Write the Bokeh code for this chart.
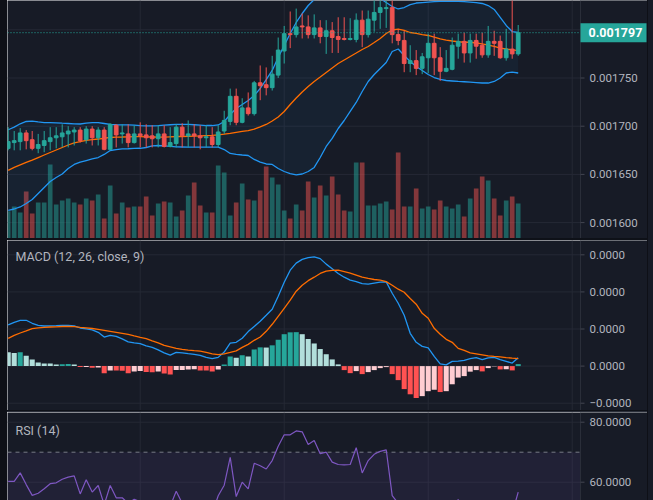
import numpy as np
from bokeh.plotting import figure
from bokeh.models import Range1d, Label, Spacer, InlineStyleSheet
from bokeh.core.properties import value
from bokeh.layouts import column, row
from bokeh.embed import file_html
from bokeh.resources import INLINE

# ---------------- data (prices in units of 1e-6) ----------------
opens = [1677,1683,1684,1693,1686,1677,1680,1684,1688,1689,1692,1694,1696,1686,1697,1688,1696,1676,1701,1692,
         1692,1683,1692,1691,1690,1687,1692,1679,1682,1699,1690,1692,1690,1688,1689,1681,1695,1705,1731,1704,
         1719,1713,1745,1743,1740,1753,1778,1796,1795,1804,1803,1795,1802,1793,1799,1793,1791,1790,1790,1810,
         1795,1810,1818,1822,1823,1795,1789,1765,1768,1760,1771,1786,1771,1757,1759,1783,1788,1776,1789,1784,
         1774,1788,1788,1771,1780,1775]
highs = [1699,1695,1698,1696,1695,1692,1695,1699,1699,1702,1700,1699,1699,1700,1700,1699,1699,1703,1702,1702,
         1702,1701,1704,1702,1701,1701,1701,1699,1702,1703,1706,1702,1701,1701,1699,1701,1716,1739,1739,1729,
         1735,1747,1763,1761,1773,1792,1804,1819,1822,1817,1815,1816,1810,1810,1808,1813,1813,1812,1817,1820,
         1820,1835,1835,1835,1835,1801,1799,1784,1779,1776,1796,1796,1782,1779,1792,1796,1797,1796,1796,1797,
         1804,1799,1794,1801,1840,1805]
lows = [1675,1675,1675,1676,1675,1672,1673,1675,1677,1678,1678,1680,1683,1682,1680,1680,1675,1675,1678,1682,
        1678,1682,1678,1678,1678,1678,1678,1678,1678,1678,1678,1678,1676,1678,1678,1678,1692,1701,1701,1703,
        1711,1711,1727,1732,1737,1750,1765,1781,1792,1791,1791,1791,1786,1775,1776,1776,1789,1789,1787,1782,
        1792,1798,1801,1802,1786,1784,1756,1756,1753,1754,1755,1753,1747,1756,1758,1770,1766,1766,1770,1771,
        1771,1773,1770,1768,1770,1773]
closes = [1684,1685,1693,1685,1677,1681,1685,1688,1690,1693,1695,1696,1685,1697,1688,1696,1676,1702,1691,1693,
          1683,1692,1690,1688,1687,1692,1679,1683,1699,1690,1692,1690,1688,1689,1681,1694,1706,1731,1704,1719,
          1713,1745,1742,1740,1754,1779,1796,1795,1803,1803,1795,1802,1793,1799,1792,1790,1790,1791,1810,1795,
          1811,1818,1823,1823,1795,1789,1765,1768,1760,1772,1786,1771,1757,1760,1784,1788,1776,1789,1783,1774,
          1788,1786,1771,1780,1775,1797]
volumes = [27.3,32,26,47,25,36,36,74,34,38,40,36,34,40,38,44,20,53,25,36,
           31,32,32,42,23,35,37,36,22,28,43,56,33,26,26,73,66,23,36,55,
           39,38,48,72,61,54,28,20,34,28,57,41,53,43,62,44,28,27,76,76,
           33,33,35,37,29,86,32,32,50,30,32,29,38,32,30,34,22,40,50,62,
           58,40,23,38,42,35]
bb_upper = [1696.3,1699.0,1702.5,1704.9,1705.2,1704.4,1703.8,1703.8,1703.5,1703.1,
            1702.8,1702.5,1702.3,1703.1,1703.8,1703.8,1702.8,1701.8,1701.5,1701.3,
            1701.3,1701.1,1700.7,1700.4,1700.4,1700.7,1701.1,1701.5,1701.8,1701.8,
            1701.8,1701.5,1701.1,1700.7,1700.7,1701.3,1704.9,1712.1,1718.4,1722.5,
            1726.7,1731.9,1739.1,1748.4,1757.8,1771.3,1783.7,1796.2,1807.6,1816.9,
            1825.2,1831.4,1836.6,1840.8,1843.9,1846.0,1847.0,1847.0,1846.0,1843.9,
            1840.8,1836.6,1832.5,1828.3,1824.2,1821.6,1823.1,1826.2,1827.8,1828.3,
            1828.8,1829.2,1829.4,1829.4,1829.4,1829.4,1829.2,1828.8,1828.3,1827.3,
            1825.2,1821.1,1812.8,1804.5,1798.2,1797.2]
bb_basis = [1654.1,1657.2,1659.8,1662.4,1664.9,1667.5,1670.1,1672.7,1675.3,1677.9,
            1680.5,1682.6,1684.1,1685.2,1686.0,1686.7,1687.5,1688.3,1688.7,1688.8,
            1689.0,1689.1,1689.1,1689.0,1688.8,1688.6,1688.7,1689.0,1689.3,1689.3,
            1689.5,1689.7,1689.9,1690.2,1690.4,1690.9,1691.7,1692.6,1693.7,1694.7,
            1695.5,1696.9,1699.2,1701.8,1705.4,1709.6,1715.3,1722.5,1729.3,1735.5,
            1741.2,1746.4,1751.0,1755.7,1760.4,1765.0,1768.7,1772.3,1775.9,1779.6,
            1782.7,1786.8,1791.0,1796.2,1799.8,1800.8,1799.3,1797.2,1796.2,1795.1,
            1794.1,1792.5,1790.5,1789.4,1788.4,1787.6,1787.1,1787.1,1786.3,1785.3,
            1784.2,1782.7,1781.1,1780.1,1779.1,1778.5]
bb_lower = [1612.6,1614.1,1616.2,1619.8,1624.0,1630.2,1636.4,1642.6,1646.8,1650.4,
            1656.1,1660.3,1662.7,1664.4,1666.0,1667.5,1670.7,1674.8,1675.8,1676.4,
            1676.6,1676.9,1677.1,1677.9,1679.5,1680.0,1679.5,1679.0,1678.6,1678.4,
            1678.2,1678.2,1678.2,1678.2,1678.2,1678.2,1675.8,1671.7,1670.7,1670.1,
            1669.6,1665.5,1662.7,1660.8,1660.3,1656.1,1653.0,1650.9,1649.4,1650.4,
            1653.0,1657.2,1667.5,1679.0,1687.3,1697.6,1705.9,1715.3,1724.6,1736.0,
            1746.4,1753.6,1759.9,1766.1,1777.5,1780.1,1773.3,1767.1,1761.9,1757.8,
            1753.6,1750.5,1748.5,1747.4,1746.9,1746.4,1746.1,1745.7,1745.3,1744.8,
            1744.8,1746.4,1750.0,1755.2,1756.2,1755.2]
# MACD values in units of 1e-5
macd_line = [1.114,1.181,1.235,1.235,1.154,1.100,1.081,1.086,1.092,1.100,
             1.100,1.086,1.027,1.005,0.978,0.911,0.784,0.830,0.803,0.735,
             0.654,0.627,0.605,0.546,0.505,0.438,0.357,0.297,0.370,0.357,
             0.335,0.316,0.289,0.235,0.200,0.235,0.378,0.622,0.641,0.750,
             0.930,1.070,1.210,1.370,1.532,1.884,2.262,2.586,2.776,2.876,
             2.924,2.946,2.897,2.749,2.627,2.497,2.397,2.316,2.276,2.222,
             2.208,2.235,2.262,2.270,1.965,1.695,1.370,0.884,0.641,0.532,
             0.492,0.262,0.059,0.032,0.127,0.135,0.154,0.200,0.227,0.173,
             0.222,0.235,0.173,0.127,0.081,0.227]
signal_line = [0.749,0.830,0.892,0.951,1.011,1.032,1.046,1.054,1.059,1.068,
               1.073,1.065,1.046,1.032,1.014,0.992,0.965,0.938,0.911,0.884,
               0.857,0.816,0.776,0.741,0.681,0.627,0.559,0.519,0.478,0.451,
               0.432,0.416,0.405,0.370,0.330,0.308,0.330,0.370,0.411,0.505,
               0.586,0.695,0.784,0.938,1.127,1.343,1.559,1.776,2.019,2.181,
               2.303,2.397,2.497,2.559,2.581,2.586,2.546,2.505,2.451,2.397,
               2.362,2.335,2.316,2.276,2.181,2.073,1.992,1.822,1.668,1.424,
               1.289,1.019,0.857,0.722,0.641,0.478,0.424,0.357,0.330,0.303,
               0.276,0.262,0.249,0.230,0.214,0.200]
macd_hist = [0.37,0.35,0.37,0.28,0.18,0.10,0.073,0.068,0.045,0.05,
             0.055,0.045,-0.027,-0.025,-0.043,-0.04,-0.19,-0.116,-0.12,-0.125,
             -0.19,-0.143,-0.135,-0.162,-0.165,-0.143,-0.197,-0.224,-0.108,-0.105,
             -0.09,-0.088,-0.116,-0.12,-0.143,-0.09,0.046,0.26,0.227,0.29,
             0.26,0.45,0.505,0.50,0.56,0.71,0.86,0.91,0.915,0.86,
             0.73,0.61,0.46,0.32,0.18,0.046,-0.108,-0.19,-0.135,-0.216,
             -0.162,-0.108,-0.054,-0.027,-0.216,-0.378,-0.62,-0.76,-0.86,-0.81,
             -0.676,-0.638,-0.70,-0.676,-0.49,-0.31,-0.27,-0.15,-0.108,-0.143,
             -0.054,-0.01,-0.09,-0.085,-0.116,0.054]
rsi = [60.3,60.3,63.1,59.2,55.6,56.3,57.8,59.5,59.8,61.0,
       61.7,62.1,56.1,60.8,56.7,58.9,52.5,58.9,54.8,54.8,
       53.0,54.3,53.5,53.0,52.0,53.5,50.5,52.0,57.0,53.0,
       53.5,53.0,51.5,52.0,49.5,55.5,59.0,68.3,55.2,60.0,
       57.8,66.3,65.5,64.4,67.2,72.0,75.8,75.8,77.1,76.8,
       72.6,73.9,69.5,70.0,66.7,65.9,65.8,65.9,71.5,63.1,
       67.2,69.3,70.3,70.8,55.5,53.0,44.5,46.0,43.5,47.0,
       52.0,47.5,43.5,44.5,51.5,54.2,49.5,53.5,51.5,48.5,
       53.5,52.5,47.5,50.5,49.5,56.7]
price_grid = [0.0016, 0.00165, 0.0017, 0.00175, 0.0018]
price_labels = ["0.001600", "0.001650", "0.001700", "0.001750"]
macd_ticks = [-1e-5, 0.0, 1e-5, 2e-5, 3e-5]
macd_labels = ["\u22120.0000", "0.0000", "0.0000", "0.0000", "0.0000"]
rsi_ticks = [60, 80]
rsi_labels = ["60.0000", "80.0000"]
rsi_band = (30, 70)
time_grid = [22, 46, 70, 94]
last_price_text = "0.001797"

# ---------------- styling ----------------
BG = "#171b26"
GRID = "#252935"
UP = "#26a69a"
DOWN = "#ef5350"
TXT = "#b2b5be"
AXLINE = "#2a2e39"
TICK = "#434651"
FONT = "Roboto"

n = len(closes)
x = np.arange(n)
o = np.array(opens) * 1e-6
h = np.array(highs) * 1e-6
l = np.array(lows) * 1e-6
c = np.array(closes) * 1e-6
colors = [UP if cc >= oo else DOWN for oo, cc in zip(o, c)]

PXB = 1 / 6.0                 # one pixel in bar units
X0 = -0.117                   # left edge of the plot (page x 7)
XF = X0 + 573 * PXB           # right edge of the plotting area (page x 580)
XR = XF + 67 * PXB            # right edge incl. price scale (page x 647)
xr = Range1d(X0, XR)


def make_panel(height, y0, y1, ticks):
    p = figure(width=640, height=height, x_range=xr, y_range=Range1d(y0, y1),
               output_backend="svg", toolbar_location=None,
               x_axis_location=None, y_axis_location=None, min_border=0,
               background_fill_color=BG, border_fill_color=BG,
               outline_line_color=None)
    p.xgrid.visible = False
    p.ygrid.visible = False
    p.segment(x0=X0, x1=XF, y0=ticks, y1=ticks, line_color=GRID, line_width=1)
    p.segment(x0=time_grid, x1=time_grid, y0=y0, y1=y1, line_color=GRID, line_width=1)
    return p


def draw_scale(p, y0, y1, ticks, labels):
    p.quad(left=[XF], right=[XR], bottom=[y0], top=[y1], fill_color=BG, line_color=None)
    p.segment(x0=[XF], x1=[XF], y0=[y0], y1=[y1], line_color=AXLINE, line_width=1)
    p.segment(x0=XF, x1=XF + 4 * PXB, y0=ticks, y1=ticks, line_color=TICK, line_width=1)
    p.text(x=XF + 9 * PXB, y=ticks, text=labels, text_color=TXT,
           text_font=value(FONT), text_font_size=value("11.5px"),
           text_baseline="middle", text_align="left")


# ---------------- main price panel ----------------
Y0, Y1 = 0.0015835, 0.0018304
PXY = (Y1 - Y0) / 238.0
p1 = make_panel(238, Y0, Y1, price_grid)
p1.extra_y_ranges = {"vol": Range1d(0, 238)}
p1.vbar(x=x, top=volumes, bottom=0, width=0.78, fill_color=colors,
        fill_alpha=0.5, line_color=None, y_range_name="vol")
up_b = np.array(bb_upper) * 1e-6
mid_b = np.array(bb_basis) * 1e-6
low_b = np.array(bb_lower) * 1e-6
p1.varea(x=x, y1=low_b, y2=up_b, fill_color="#2196f3", fill_alpha=0.06)
p1.line(x, up_b, line_color="#2196f3", line_width=1.3)
p1.line(x, low_b, line_color="#2196f3", line_width=1.3)
p1.line(x, mid_b, line_color="#ff6d00", line_width=1.3)
p1.segment(x0=x, y0=l, x1=x, y1=h, line_color=colors, line_width=1)
p1.vbar(x=x, bottom=np.minimum(o, c), top=np.maximum(o, c), width=0.62,
        fill_color=colors, line_color=colors, line_width=1)
p1.segment(x0=[X0], x1=[XF], y0=[c[-1]], y1=[c[-1]], line_color=UP,
           line_dash="1 2", line_width=1)
n_lab = len(price_labels)
draw_scale(p1, Y0, Y1, price_grid[:n_lab], price_labels)
p1.quad(left=[XF], right=[XF + 66 * PXB], bottom=[c[-1] - 9.5 * PXY], top=[c[-1] + 9.5 * PXY],
        fill_color=UP, line_color=None)
p1.text(x=[XF + 8 * PXB], y=[c[-1] + 0.5 * PXY], text=[last_price_text], text_color="white",
        text_font=value(FONT), text_font_size=value("12.5px"), text_font_style="bold",
        text_baseline="middle", text_align="left")

# ---------------- MACD panel ----------------
M0, M1 = -1.197e-5, 3.386e-5
p2 = make_panel(170, M0, M1, macd_ticks)
hist = np.array(macd_hist)
hcols = []
for i, v in enumerate(hist):
    prev = hist[i - 1] if i > 0 else v
    if v >= 0:
        hcols.append("#26a69a" if v > prev else "#b2dfdb")
    else:
        hcols.append("#ff5252" if v < prev else "#ffcdd2")
p2.vbar(x=x, top=hist * 1e-5, bottom=0, width=0.85, fill_color=hcols, line_color=None)
p2.line(x, np.array(macd_line) * 1e-5, line_color="#2196f3", line_width=1.3)
p2.line(x, np.array(signal_line) * 1e-5, line_color="#ff6d00", line_width=1.3)
draw_scale(p2, M0, M1, macd_ticks, macd_labels)
p2.add_layout(Label(x=8, y=154, x_units="screen", y_units="screen",
                    text="MACD (12, 26, close, 9)", text_color=TXT, text_font=FONT,
                    text_font_size="12.5px", text_baseline="middle"))

# ---------------- RSI panel ----------------
R0, R1 = 53.9, 83.23
p3 = make_panel(88, R0, R1, rsi_ticks)
p3.quad(left=[X0], right=[XF], bottom=[rsi_band[0]], top=[rsi_band[1]],
        fill_color="#7e57c2", fill_alpha=0.1, line_color=None)
p3.segment(x0=[X0], x1=[XF], y0=[rsi_band[1]], y1=[rsi_band[1]], line_color="#787b86",
           line_dash="4 4", line_width=1)
p3.line(x, rsi, line_color="#7e57c2", line_width=1.2)
draw_scale(p3, R0, R1, rsi_ticks, rsi_labels)
p3.add_layout(Label(x=8, y=70, x_units="screen", y_units="screen",
                    text="RSI (14)", text_color=TXT, text_font=FONT,
                    text_font_size="12.5px", text_baseline="middle"))

sep1 = Spacer(width=640, height=2, styles={"background-color": "#0e1118"})
sep2a = Spacer(width=640, height=1, styles={"background-color": "#0e1118"})
sep2b = Spacer(width=640, height=1, styles={"background-color": AXLINE})
col = column(p1, sep1, p2, sep2a, sep2b, p3, spacing=0)
left = Spacer(width=7, height=500, styles={"background-color": "#0e1017"})
right1 = Spacer(width=1, height=500, styles={"background-color": "#0e1017"})
right2 = Spacer(width=5, height=500, styles={"background-color": BG})
root = row(left, col, right1, right2, spacing=0)
root.stylesheets = [InlineStyleSheet(css=":host{position:absolute !important;left:0px !important;top:0px !important;}")]

open("out.html", "w").write(file_html(root, INLINE))
